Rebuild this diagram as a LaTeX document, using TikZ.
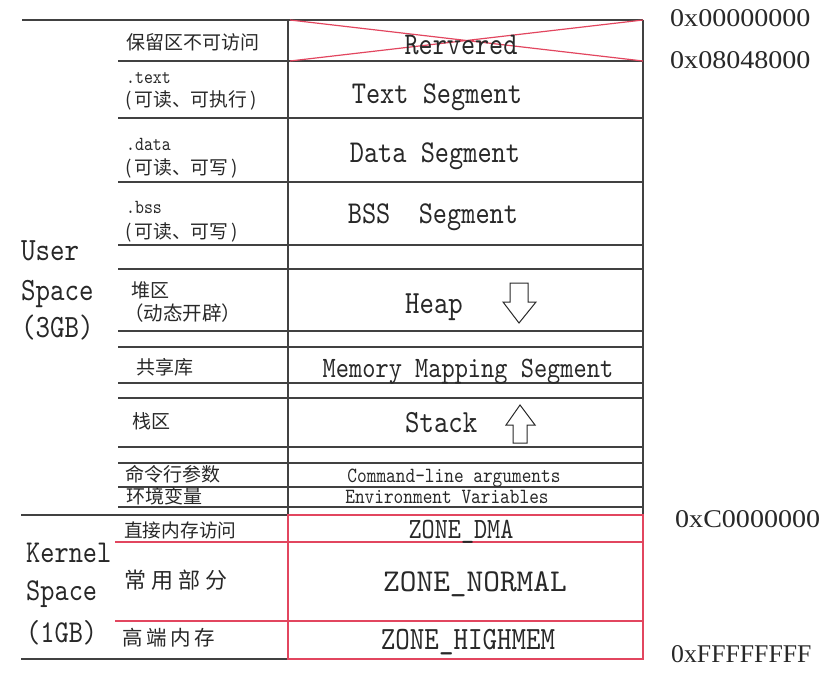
\documentclass[tikz,border=0pt]{standalone}
\usepackage{fontspec}
\setmainfont{Liberation Serif}
\newfontfamily\cjk{Noto Sans CJK SC}
\newfontfamily\mono{lmmono10-regular.otf}[FakeStretch=0.85]
\newfontfamily\monoplain{lmmono10-regular.otf}
\newfontfamily\addrfont{Liberation Serif}[FakeStretch=1.1]
\newfontfamily\addrnarrow{Liberation Serif}[FakeStretch=1.01]
\newcommand\setfs[1]{\fontsize{#1}{#1}\selectfont}
\definecolor{ink}{RGB}{40,40,40}
\definecolor{rule}{RGB}{65,65,65}
\definecolor{zone}{RGB}{226,70,95}

\begin{document}
\begin{tikzpicture}[x=1pt,y=-1pt,
  grid/.style={draw=rule,line width=1.5pt},
  zoneline/.style={draw=zone,line width=1.2pt},
  lab/.style={inner sep=0pt,text=ink,anchor=base west},
  seg/.style={inner sep=0pt,text=ink,anchor=base},
  cn/.style={inner sep=0pt,text=ink,anchor=west,font=\cjk\setfs{19}},
  cnsmall/.style={cn,font=\cjk\setfs{18.8}},
  addr/.style={inner sep=0pt,text=ink,anchor=base west,font=\addrfont\setfs{25.5}},
  growth/.style={draw=ink,line width=1pt,fill=white,line join=miter}]
\useasboundingbox (0,0) rectangle (834,677);

% table rules of the user space
\draw[grid] (22,20) -- (643,20);
\foreach \y in {61,118,182,245,269,331,347,383,398,447,463,487,507}
  \draw[grid] (118,\y) -- (643,\y);
\draw[grid] (21,515) -- (288,515);
\draw[grid] (21,659) -- (288,659);
\draw[grid] (288,20) -- (288,515);
\draw[grid] (643,20) -- (643,515);

% kernel zones
\draw[zoneline] (288,515) rectangle (643,659);
\draw[zoneline] (115,542) -- (643,542);
\draw[zoneline] (115,621) -- (643,621);

% reserved area crossed out
\draw[zoneline] (290,20) -- (643,61) (290,61) -- (643,20);

% left column: section descriptions
\node[cn] (resv) at (126,42) {保留区不可访问};
\node[lab,font=\mono\setfs{20}] (txtname) at (126,83) {.text};
\node[cnsmall] (txtattr) at (125,100) {(\kern3pt可读、可执行\kern3pt)};
\node[lab,font=\mono\setfs{20}] (dataname) at (126,150) {.data};
\node[cnsmall] (dataattr) at (125,168) {(\kern3pt可读、可写\kern3pt)};
\node[lab,font=\mono\setfs{20}] (bssname) at (126,213) {.bss};
\node[cnsmall] (bssattr) at (125,232) {(\kern3pt可读、可写\kern3pt)};
\node[cn] (heapname) at (131,290) {堆区};
\node[cn,font=\cjk\setfs{19.5}] (heapattr) at (124,313) {（动态开辟）};
\node[cn] (libname) at (136,367) {共享库};
\node[cn] (stackname) at (132,421) {栈区};
\node[cn] (argname) at (125,474) {命令行参数};
\node[cn] (envname) at (126,496) {环境变量};
\node[cn,font=\cjk\setfs{18.7}] (dmaname) at (124,530) {直接内存访问};
\node[cn,font=\cjk\setfs{22}] (normalname) at (124,580)
  {常\hspace{5pt}用\hspace{5pt}部\hspace{5pt}分};
\node[cn,font=\cjk\setfs{20.5}] (highname) at (122,638)
  {高\hspace{3.7pt}端\hspace{3.7pt}内\hspace{3.7pt}存};

% right column: segments
\node[seg,font=\mono\setfs{31.6}] (rsvseg) at (461,55) {Rervered};
\node[seg,font=\mono\setfs{31.8}] (textseg) at (437,103) {Text Segment};
\node[seg,font=\mono\setfs{31.8}] (dataseg) at (435,162) {Data Segment};
\node[seg,font=\mono\setfs{31.8}] (bssseg) at (433,223) {BSS\ \ Segment};
\node[lab,font=\mono\setfs{32.3}] (heapseg) at (405,313) {Heap};
\node[seg,font=\mono\setfs{29.6}] (mmapseg) at (468,377) {Memory Mapping Segment};
\node[lab,font=\mono\setfs{32.3}] (stackseg) at (405,432) {Stack};
\node[seg,font=\mono\setfs{21.7}] (argseg) at (454,482) {Command-line arguments};
\node[seg,font=\mono\setfs{21.7}] (envseg) at (447,503) {Environment Variables};
\node[seg,font=\mono\setfs{29.4}] (dmaseg) at (461,538) {ZONE\_DMA};
\node[seg,font=\monoplain\setfs{31.8}] (normalseg) at (475,591) {ZONE\_NORMAL};
\node[seg,font=\mono\setfs{32.5}] (highseg) at (468,649) {ZONE\_HIGHMEM};

% growth directions of heap and stack
\draw[growth] (510,283) -- (528,283) -- (528,302) -- (536,302) -- (519,323)
  -- (503,302) -- (510,302) -- cycle;
\draw[growth] (513,443) -- (527,443) -- (527,425) -- (535,425) -- (520,405)
  -- (506,425) -- (513,425) -- cycle;

% space labels
\node[lab,font=\mono\setfs{32.5}] (user) at (21,260) {User};
\node[lab,font=\mono\setfs{32.5}] (userspace) at (21,300) {Space};
\node[lab,font=\mono\setfs{32.5}] (usersize) at (21,337) {(3GB)};
\node[lab,font=\mono\setfs{31.8}] (kernel) at (26,562) {Kernel};
\node[lab,font=\mono\setfs{31.8}] (kernelspace) at (26,600) {Space};
\node[lab,font=\mono\setfs{31.8}] (kernelsize) at (26,642) {(1GB)};

% addresses
\node[addr] (a0) at (670,27) {0x00000000};
\node[addr] (a1) at (670,68) {0x08048000};
\node[addr] (a2) at (675,527) {0xC0000000};
\node[addr,font=\addrnarrow\setfs{25.5}] (a3) at (671,662) {0xFFFFFFFF};
\end{tikzpicture}
\end{document}
